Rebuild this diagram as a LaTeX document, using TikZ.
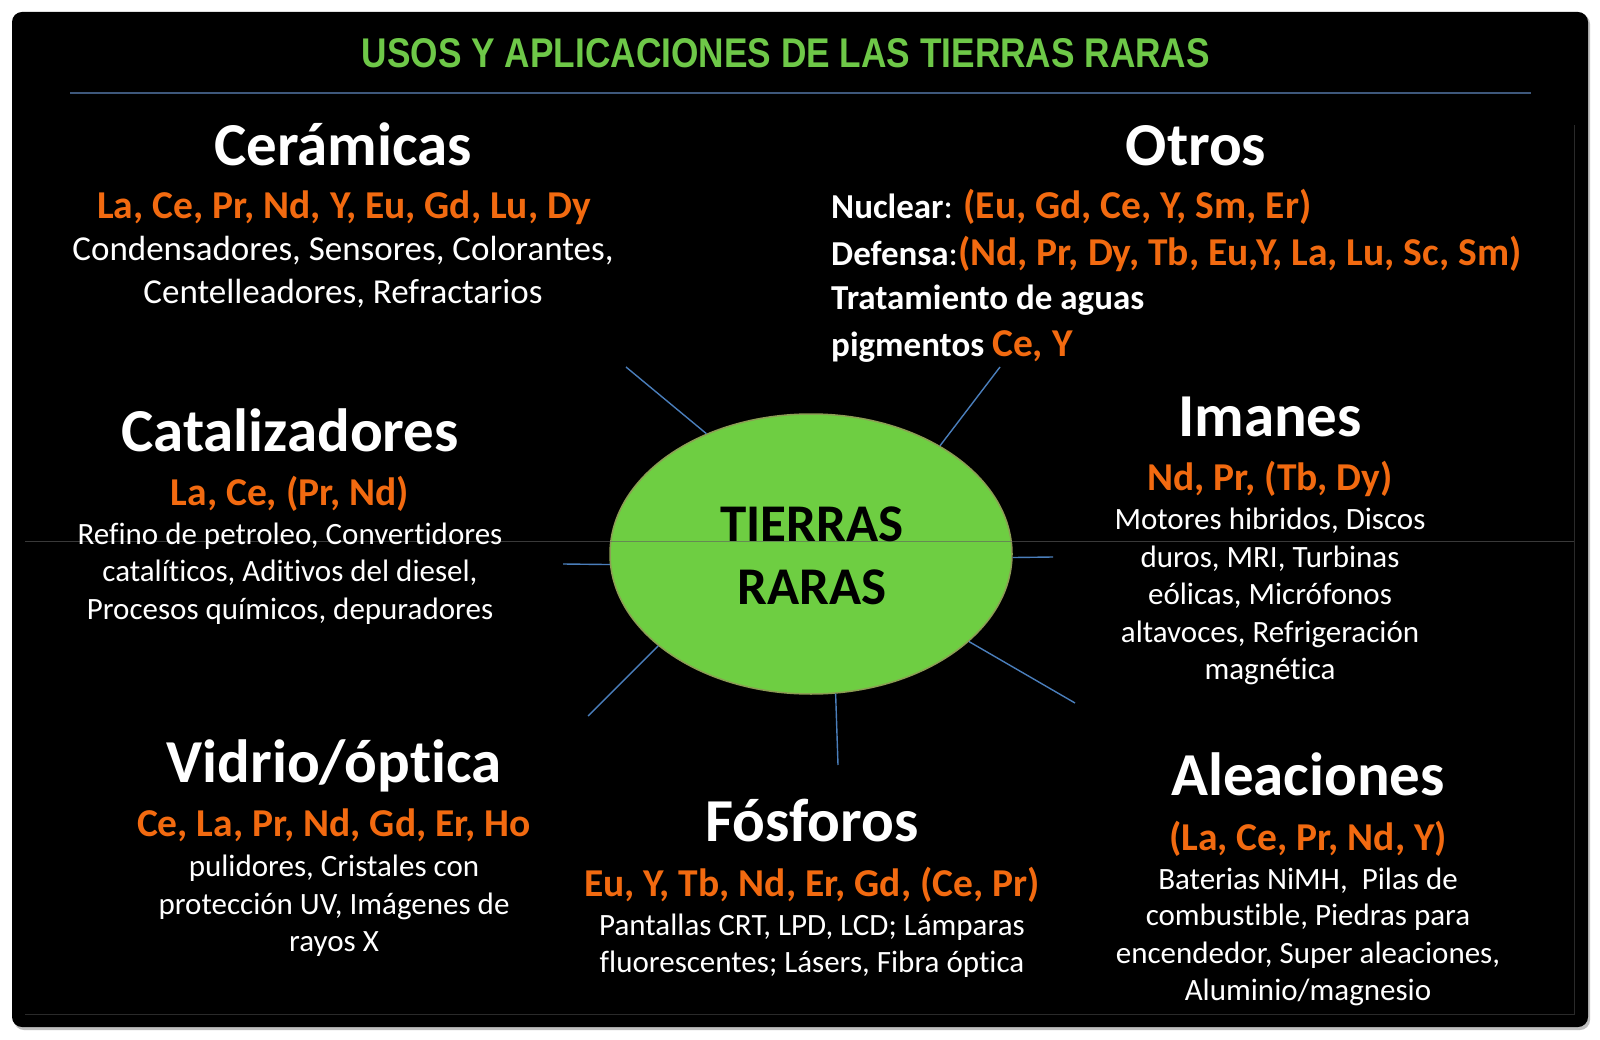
\documentclass[tikz,border=0pt]{standalone}
\usepackage{fontspec}
\setmainfont{Carlito}[Ligatures=NoCommon]
\newfontfamily\ttlfont{Liberation Sans}
\usepackage{graphicx}
\usetikzlibrary{shapes.geometric}
\definecolor{orng}{RGB}{242,106,16}
\definecolor{ttlgreen}{RGB}{110,200,72}
\definecolor{blobgreen}{RGB}{110,206,66}
\definecolor{blobedge}{RGB}{140,158,84}
\definecolor{spokeblue}{RGB}{74,126,187}
\definecolor{hdrline}{RGB}{62,88,124}
\definecolor{midline}{RGB}{95,95,95}
\definecolor{frameline}{RGB}{42,42,42}
\newcommand\myfs[1]{\fontsize{#1}{#1}\selectfont}
\tikzset{
  hd/.style={anchor=base, inner sep=0pt, text=white, font={\myfs{61}\bfseries}},
  el/.style={anchor=base, inner sep=0pt, text=orng, font={\myfs{39.5}\bfseries}},
  ds/.style={anchor=base, inner sep=0pt, text=white, font={\myfs{31}}},
  dsbig/.style={anchor=base, inner sep=0pt, text=white, font={\myfs{35}}},
  ot/.style={anchor=base west, inner sep=0pt, text=white, font={\myfs{35}\bfseries}},
  spoke/.style={draw=spokeblue, line width=1.4pt},
}
\begin{document}
\begin{tikzpicture}[x=1pt,y=-1pt]
\useasboundingbox (0,0) rectangle (1600,1040);
\fill[white] (0,0) rectangle (1600,1040);
\fill[black!25, rounded corners=10pt] (14,14) rectangle (1590,1030);
\fill[black, rounded corners=10pt] (12,12) rectangle (1588,1027);
\draw[frameline, line width=1pt] (1574,125) -- (1574,1014) -- (25,1014);

% title
\node[inner sep=0pt, text=ttlgreen] (title) at (786,53)
  {\resizebox{848pt}{29pt}{\ttlfont\bfseries USOS Y APLICACIONES DE LAS TIERRAS RARAS}};
\draw[hdrline, line width=1.2pt] (70,93) -- (1531,93);

% central ellipse
\node[ellipse, fill=blobgreen, draw=blobedge, line width=1.5pt,
      minimum width=402pt, minimum height=280pt, inner sep=0pt] (tr) at (811,554) {};
\draw[midline, line width=1pt, draw opacity=0.6] (25,541) -- (1574,541);
\node[anchor=base, inner sep=0pt, font={\myfs{53}\bfseries}] (tr1) at (812,541) {TIERRAS};
\node[anchor=base, inner sep=0pt, font={\myfs{53}\bfseries}] (tr2) at (812,604) {RARAS};

% spokes
\coordinate (e1) at (626,367);
\coordinate (e2) at (1000,367);
\coordinate (e3) at (563,564);
\coordinate (e4) at (1053,557);
\coordinate (e5) at (588,716);
\coordinate (e6) at (838,765);
\coordinate (e7) at (1075,703);
\draw[spoke] (tr.131) -- (e1);
\draw[spoke] (tr.40) -- (e2);
\draw[spoke] (tr.183) -- (e3);
\draw[spoke] (tr.359) -- (e4);
\draw[spoke] (tr.211) -- (e5);
\draw[spoke] (tr.280) -- (e6);
\draw[spoke] (tr.331) -- (e7);

% Ceramicas
\node[hd] (ceh) at (343,166) {Cerámicas};
\node[el] (cee) at (344,219) {La, Ce, Pr, Nd, Y, Eu, Gd, Lu, Dy};
\node[dsbig] (ced1) at (343,261) {Condensadores, Sensores, Colorantes,};
\node[dsbig] (ced2) at (343,304) {Centelleadores, Refractarios};

% Otros
\node[hd] (oth) at (1196,166) {Otros};
\node[ot] (nuc) at (831,219) {Nuclear{\mdseries:} {\color{orng}\myfs{39.5}(Eu, Gd, Ce, Y, Sm, Er)}};
\node[ot] (def) at (831,266) {Defensa{\mdseries:}{\color{orng}\myfs{39.5}(Nd, Pr, Dy, Tb, Eu,Y, La, Lu, Sc, Sm)}};
\node[ot] (agu) at (831,310) {Tratamiento de aguas};
\node[ot] (pig) at (831,356) {pigmentos {\color{orng}\myfs{39.5}Ce, Y}};

% Catalizadores
\node[hd] (cah) at (290,451) {Catalizadores};
\node[el] (cae) at (290,505) {La, Ce, (Pr, Nd)};
\node[ds] (cad1) at (290,544) {Refino de petroleo, Convertidores};
\node[ds] (cad2) at (290,581) {catalíticos, Aditivos del diesel,};
\node[ds] (cad3) at (290,619) {Procesos químicos, depuradores};

% Imanes
\node[hd] (imh) at (1270,436) {Imanes};
\node[el] (ime) at (1270,490) {Nd, Pr, (Tb, Dy)};
\node[ds] (imd1) at (1270,529) {Motores hibridos, Discos};
\node[ds] (imd2) at (1270,567) {duros, MRI, Turbinas};
\node[ds] (imd3) at (1270,604) {eólicas, Micrófonos};
\node[ds] (imd4) at (1270,642) {altavoces, Refrigeración};
\node[ds] (imd5) at (1270,679) {magnética};

% Vidrio
\node[hd] (vih) at (334,782) {Vidrio/óptica};
\node[el] (vie) at (334,836) {Ce, La, Pr, Nd, Gd, Er, Ho};
\node[ds] (vid1) at (334,876) {pulidores, Cristales con};
\node[ds] (vid2) at (334,914) {protección UV, Imágenes de};
\node[ds] (vid3) at (334,951) {rayos X};

% Fosforos
\node[hd] (foh) at (812,841) {Fósforos};
\node[el] (foe) at (812,896) {Eu, Y, Tb, Nd, Er, Gd, (Ce, Pr)};
\node[ds] (fod1) at (812,935) {Pantallas CRT, LPD, LCD; Lámparas};
\node[ds] (fod2) at (812,972) {fluorescentes; Lásers, Fibra óptica};

% Aleaciones
\node[hd] (alh) at (1308,795) {Aleaciones};
\node[el] (ale) at (1308,850) {(La, Ce, Pr, Nd, Y)};
\node[ds] (ald1) at (1308,889) {Baterias NiMH,\ \ Pilas de};
\node[ds] (ald2) at (1308,925) {combustible, Piedras para};
\node[ds] (ald3) at (1308,963) {encendedor, Super aleaciones,};
\node[ds] (ald4) at (1308,1000) {Aluminio/magnesio};
\end{tikzpicture}
\end{document}
